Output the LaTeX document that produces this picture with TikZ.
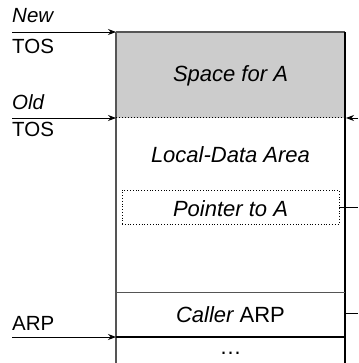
\documentclass[tikz,border=0pt]{standalone}
\usepackage{fontspec}
\setmainfont{Liberation Sans}
\usetikzlibrary{arrows.meta}
\definecolor{spacegray}{HTML}{CCCCCC}
\definecolor{edgegray}{HTML}{555555}
\begin{document}
\begin{tikzpicture}[x=1pt,y=-1pt,
  arr/.style={-{Stealth[length=8pt,width=6pt]},line width=0.9pt},
  boxtext/.style={anchor=base,inner sep=0pt,font=\fontsize{22}{26}\selectfont},
  lbl/.style={anchor=base west,inner sep=0pt,font=\fontsize{20.5}{24}\selectfont},
  frame/.style={line width=1.2pt},
  stub/.style={line width=0.9pt}]
\useasboundingbox (0,0) rectangle (358,363);
% shaded region
\fill[spacegray] (116,32) rectangle (345,118);
% frame lines
\draw[frame,edgegray] (116,32) -- (345,32);
\draw[frame,edgegray] (116,32) -- (116,363);
\draw[frame,black] (345,32) -- (345,363);
\draw[dotted,line width=1pt] (116,118) -- (345,118);
\draw[line width=0.9pt,edgegray] (116,292) -- (345,292);
\draw[line width=1.3pt,black] (116,337) -- (345,337);
% dotted box
\node[draw,dotted,line width=0.8pt,minimum width=217pt,minimum height=34pt,inner sep=0pt] (ptrbox) at (230.5,207) {};
% texts
\node[boxtext] (space) at (230.5,82) {\itshape Space for A};
\node[boxtext] (local) at (230.5,163) {\itshape Local-Data Area};
\node[boxtext] (ptr) at (230.5,216) {\itshape Pointer to A};
\node[boxtext] (caller) at (230.5,322.5) {\itshape Caller\upshape{} ARP};
\node[boxtext] (dots) at (230.5,354) {\dots};
% left labels
\node[lbl] (new) at (12,23) {\itshape New};
\node[lbl] (tos1) at (12,54) {TOS};
\node[lbl] (old) at (12,110) {\itshape Old};
\node[lbl] (tos2) at (12,137) {TOS};
\node[lbl] (arp) at (12,330) {ARP};
% arrow coordinates
\coordinate (a1s) at (12,32);  \coordinate (a1e) at (116,32);
\coordinate (a2s) at (12,118); \coordinate (a2e) at (116,118);
\coordinate (a3s) at (12,337); \coordinate (a3e) at (116,337);
\coordinate (r1s) at (358,118); \coordinate (r1e) at (346,118);
\coordinate (r2e) at (358,207);
\coordinate (r3s) at (345,313); \coordinate (r3e) at (358,313);
\draw[arr] (a1s) -- (a1e);
\draw[arr] (a2s) -- (a2e);
\draw[arr] (a3s) -- (a3e);
\draw[arr] (r1s) -- (r1e);
\draw[stub] (ptrbox.east) -- (r2e);
\draw[stub] (r3s) -- (r3e);
\end{tikzpicture}
\end{document}
